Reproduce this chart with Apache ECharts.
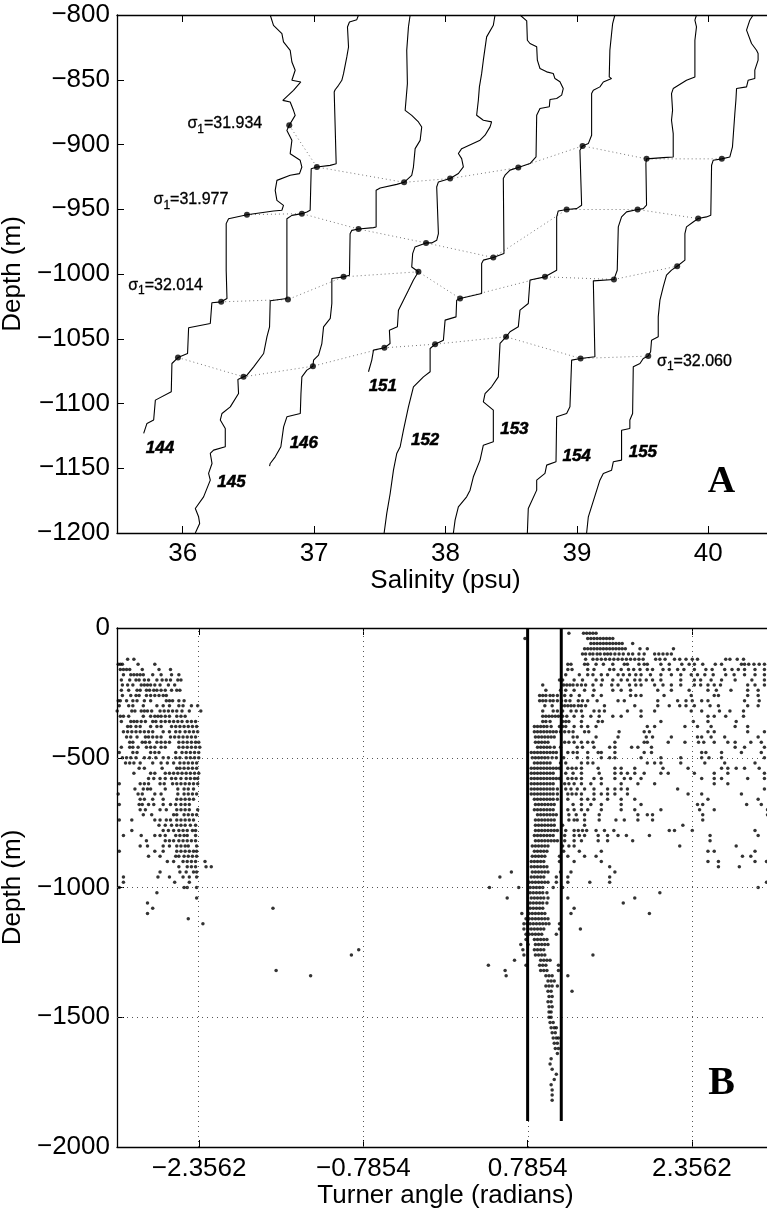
<!DOCTYPE html>
<html><head><meta charset="utf-8">
<script src="https://cdn.jsdelivr.net/npm/echarts@6.0.0/dist/echarts.min.js"></script>
<style>html,body{margin:0;padding:0;background:#fff}#c{width:767px;height:1209px}</style>
</head><body><div id="c"></div>
<script>
// ---------- Panel A data (salinity psu, depth m) ----------
const salinityTicks = [36, 37, 38, 39, 40];
const p144 = [[36.666,-800],[36.691,-808],[36.755,-814.4],[36.767,-820.8],[36.818,-827.3],[36.831,-836.3],[36.856,-842.7],[36.831,-850.4],[36.899,-851.7],[36.843,-858.2],[36.762,-865.9],[36.818,-867.2],[36.843,-873.6],[36.856,-877.5],[36.811,-885.2],[36.793,-889.1],[36.831,-896.8],[36.818,-907.1],[36.894,-912.2],[36.907,-917.4],[36.889,-922.5],[36.818,-923.8],[36.717,-927.7],[36.704,-935.4],[36.717,-943.1],[36.767,-947],[36.755,-950.8],[36.691,-951.4],[36.489,-954.2],[36.349,-957.3],[36.331,-961.1],[36.331,-997.2],[36.337,-1018.9],[36.293,-1021.5],[36.222,-1022.2],[36.21,-1038.2],[36.045,-1041.5],[36.037,-1061.4],[35.964,-1064.5],[35.918,-1069.1],[35.913,-1091],[35.792,-1097.4],[35.779,-1112.8],[35.728,-1115.4],[35.703,-1123.1]];
const p145 = [[37.338,-800],[37.325,-803.6],[37.269,-805.4],[37.254,-809.3],[37.262,-824.7],[37.249,-832.4],[37.224,-845.3],[37.211,-850.4],[37.186,-854.3],[37.16,-857.7],[37.153,-859.5],[37.168,-914.8],[37.122,-916.1],[37.021,-917.4],[36.978,-918.7],[36.97,-950.8],[36.945,-952.1],[36.907,-953.4],[36.831,-954.7],[36.793,-957.3],[36.793,-1018.9],[36.801,-1019.7],[36.666,-1020.7],[36.661,-1040.8],[36.641,-1048.5],[36.616,-1061.4],[36.54,-1071.7],[36.489,-1078.1],[36.463,-1079.4],[36.42,-1081.4],[36.425,-1092.3],[36.362,-1102.6],[36.299,-1107.7],[36.286,-1112.8],[36.324,-1119.3],[36.324,-1133.4],[36.235,-1136],[36.21,-1138.6],[36.223,-1146.3],[36.197,-1154],[36.21,-1159.2],[36.159,-1172.1],[36.096,-1181.1],[36.121,-1187.5],[36.129,-1192.6],[36.096,-1200]];
const p146 = [[37.731,-800],[37.718,-809.3],[37.705,-827.3],[37.71,-853],[37.693,-873.6],[37.743,-877.5],[37.794,-882.6],[37.819,-886.5],[37.807,-896.8],[37.769,-903.2],[37.756,-917.4],[37.743,-923.8],[37.685,-929.2],[37.629,-930.8],[37.503,-933.6],[37.472,-935.4],[37.472,-963.7],[37.452,-964.2],[37.338,-965.3],[37.287,-966.3],[37.274,-968.9],[37.269,-1000.9],[37.224,-1002.2],[37.135,-1003.5],[37.135,-1022.8],[37.123,-1034.3],[37.072,-1040.8],[37.059,-1053.7],[37.034,-1062.7],[36.996,-1066.5],[36.991,-1071.2],[36.945,-1074.2],[36.907,-1079.4],[36.9,-1092.3],[36.895,-1107.7],[36.793,-1110.3],[36.768,-1118],[36.747,-1133.4],[36.704,-1141.2],[36.666,-1146.3],[36.661,-1148.4]];
const p151 = [[38.377,-800],[38.364,-807.9],[38.313,-816.9],[38.288,-834.9],[38.275,-845.3],[38.258,-855.5],[38.25,-865.8],[38.237,-877.4],[38.288,-881.3],[38.351,-882.5],[38.339,-886.4],[38.301,-892.8],[38.263,-896.7],[38.123,-903.2],[38.098,-907],[38.123,-910.9],[38.136,-917.3],[38.098,-922.4],[38.035,-926.3],[37.946,-928.9],[37.933,-932.8],[37.946,-968.8],[37.933,-974],[37.895,-976],[37.852,-976],[37.768,-979.1],[37.75,-984.3],[37.743,-994.6],[37.794,-998.3],[37.756,-1004.7],[37.718,-1012.5],[37.68,-1020.2],[37.642,-1027.9],[37.634,-1040.8],[37.573,-1043.4],[37.578,-1053.7],[37.535,-1057],[37.452,-1058.8],[37.439,-1066.5],[37.414,-1075.5]];
const p152 = [[38.567,-800],[38.618,-804.5],[38.623,-819.5],[38.643,-822],[38.694,-824.6],[38.699,-834.9],[38.719,-841.3],[38.77,-843.9],[38.82,-845.2],[38.833,-849.1],[38.871,-851.6],[38.896,-856.8],[38.884,-861.9],[38.846,-864.5],[38.795,-865.3],[38.79,-870.9],[38.719,-872.2],[38.694,-877.4],[38.689,-909.5],[38.643,-914.7],[38.554,-917.8],[38.491,-919.8],[38.453,-923.7],[38.44,-926.3],[38.445,-984.2],[38.364,-987.3],[38.288,-989.3],[38.275,-991.9],[38.275,-1015],[38.111,-1018.9],[38.085,-1020.2],[38.08,-1033.1],[37.997,-1035.6],[37.984,-1051.1],[37.921,-1054.2],[37.883,-1057.5],[37.883,-1075.5],[37.832,-1079.4],[37.756,-1087.1],[37.718,-1102.6],[37.68,-1120.6],[37.655,-1133.4],[37.629,-1138.6],[37.604,-1151.5],[37.579,-1169.5],[37.553,-1184.9],[37.533,-1200]];
const p153 = [[39.289,-800],[39.272,-806.6],[39.264,-814.3],[39.251,-827.2],[39.246,-847.8],[39.264,-849.1],[39.201,-851.7],[39.175,-855.5],[39.125,-858.1],[39.112,-860.7],[39.112,-892.8],[39.087,-899.3],[39.043,-901.1],[39.023,-904.4],[39.036,-946.9],[38.998,-949.5],[38.922,-950.2],[38.858,-951.3],[38.846,-955.9],[38.846,-997.1],[38.851,-998.3],[38.757,-1002.2],[38.643,-1004.7],[38.63,-1022.8],[38.567,-1027.9],[38.554,-1040.8],[38.491,-1044.6],[38.461,-1048.5],[38.415,-1053.6],[38.402,-1079.4],[38.351,-1087.1],[38.301,-1092.3],[38.288,-1098.7],[38.364,-1105.1],[38.364,-1129.6],[38.288,-1132.2],[38.263,-1143.7],[38.212,-1156.6],[38.187,-1166.9],[38.161,-1172.1],[38.098,-1179.8],[38.073,-1190.1],[38.06,-1200]];
const p154 = [[39.91,-800],[39.898,-804],[39.91,-809.2],[39.898,-819.5],[39.898,-847.8],[39.834,-850.4],[39.733,-856.8],[39.72,-860.7],[39.728,-873.6],[39.72,-881.3],[39.733,-891.6],[39.733,-909.6],[39.657,-910.1],[39.53,-911.1],[39.525,-914.7],[39.53,-946.9],[39.505,-949.5],[39.462,-950.2],[39.378,-952],[39.34,-955.9],[39.315,-963.6],[39.307,-997.1],[39.289,-1002.2],[39.282,-1004.2],[39.125,-1005.3],[39.137,-1063.9],[39.028,-1065.2],[38.96,-1066.5],[38.947,-1102.6],[38.922,-1107.7],[38.846,-1110.3],[38.841,-1145],[38.77,-1147.6],[38.757,-1154],[38.694,-1159.2],[38.694,-1166.9],[38.63,-1181.1],[38.623,-1200]];
const p155 = [[40.341,-800],[40.316,-804],[40.291,-811.7],[40.329,-822],[40.367,-827.2],[40.379,-829.8],[40.379,-834.9],[40.354,-842.6],[40.354,-849.1],[40.303,-850.4],[40.291,-855.5],[40.215,-856.8],[40.21,-865.8],[40.202,-876.1],[40.189,-877.4],[40.184,-901.8],[40.164,-909.6],[40.103,-911.1],[40.037,-912.2],[40.025,-916],[40.019,-954.6],[39.986,-955.9],[39.923,-957.2],[39.885,-959.8],[39.834,-963.6],[39.822,-968.8],[39.822,-989.3],[39.763,-994],[39.72,-997],[39.682,-1000.9],[39.657,-1009.9],[39.632,-1020.2],[39.619,-1033.1],[39.619,-1048.5],[39.568,-1051.1],[39.561,-1060.1],[39.543,-1063.4],[39.505,-1065.2],[39.48,-1069.1],[39.429,-1071.7],[39.424,-1107.7],[39.403,-1112.8],[39.403,-1119.3],[39.34,-1120.6],[39.34,-1143.7],[39.277,-1145],[39.264,-1151.5],[39.201,-1154],[39.175,-1159.2],[39.087,-1187.5],[39.074,-1200]];
const profiles = [p144, p145, p146, p151, p152, p153, p154, p155];

// isopycnal (sigma1) points on each profile
const sig31934 = [[36.811,-885.2],[37.021,-917.4],[37.685,-929.2],[38.035,-926.3],[38.554,-917.8],[39.043,-901.1],[39.530,-911.1],[40.103,-911.1]];
const sig31977 = [[36.489,-954.2],[36.907,-953.4],[37.338,-965.3],[37.852,-976.0],[38.364,-987.3],[38.922,-950.2],[39.462,-950.2],[39.923,-957.2]];
const sig32014 = [[36.293,-1021.5],[36.801,-1019.7],[37.224,-1002.2],[37.794,-998.3],[38.111,-1018.9],[38.757,-1002.2],[39.282,-1004.2],[39.763,-994.0]];
const sig32060 = [[35.964,-1064.5],[36.463,-1079.4],[36.991,-1071.2],[37.535,-1057.0],[37.921,-1054.2],[38.461,-1048.5],[39.028,-1065.2],[39.543,-1063.4]];
const sigmaLines = [sig31934, sig31977, sig32014, sig32060];

const profileNames = ['144','145','146','151','152','153','154','155'];
const profileLabelPos = [[35.827,-1134.3],[36.371,-1160.9],[36.922,-1130.5],[37.523,-1086.7],[37.845,-1128.6],[38.524,-1119.7],[38.998,-1140.5],[39.502,-1137.6]];
const sigmaNames = ['31.934','31.977','32.014','32.060'];
const sigmaLabelPos = [[36.032,-884.1],[35.774,-942.5],[35.581,-1008.6],[39.606,-1067.3]];

// ---------- Panel B data (Turner angle rad, depth m) ----------
const turnerTicks = [-2.3562, -0.7854, 0.7854, 2.3562];
const fingerBounds = [0.7854, 1.1071];
const boundDepth = [0, -1900];
// rows: [depth, angle1, angle2, ...]
const tuLeftRows = [
[120,-3.04,-2.98],
[140,-3.13,-3.11,-3.09,-2.94,-2.78],
[160,-3.11,-3.08,-3.05,-3.02,-2.90,-2.74,-2.63],
[180,-3.08,-3.01,-2.98,-2.95,-2.92,-2.89,-2.80,-2.72,-2.62,-2.55],
[200,-3.10,-3.02,-2.96,-2.93,-2.88,-2.84,-2.76,-2.71,-2.67,-2.63,-2.56,-2.53],
[220,-3.09,-3.04,-2.99,-2.91,-2.88,-2.85,-2.82,-2.78,-2.73,-2.65,-2.59],
[240,-3.10,-3.03,-2.95,-2.92,-2.86,-2.83,-2.79,-2.76,-2.72,-2.68,-2.62,-2.57,-2.54],
[260,-3.09,-3.01,-2.96,-2.93,-2.86,-2.82,-2.78,-2.74,-2.70,-2.67],
[280,-3.13,-3.11,-3.05,-2.99,-2.95,-2.88,-2.82,-2.67,-2.64,-2.61,-2.55,-2.50],
[300,-3.12,-3.03,-2.99,-2.89,-2.76,-2.70,-2.64,-2.55,-2.51,-2.43,-2.37],
[320,-3.14,-3.00,-2.97,-2.91,-2.88,-2.85,-2.81,-2.73,-2.69,-2.65,-2.61,-2.57,-2.52,-2.45,-2.34],
[340,-3.11,-3.08,-3.03,-2.89,-2.82,-2.78,-2.75,-2.72,-2.68,-2.64,-2.57,-2.53,-2.49],
[360,-3.10,-3.01,-2.98,-2.95,-2.91,-2.87,-2.80,-2.77,-2.72,-2.68,-2.64,-2.60,-2.56,-2.52,-2.47,-2.43,-2.39],
[380,-3.04,-3.01,-2.96,-2.92,-2.82,-2.76,-2.72,-2.62,-2.58,-2.54,-2.50,-2.46,-2.42,-2.38],
[400,-3.08,-3.04,-3.00,-2.96,-2.92,-2.88,-2.84,-2.80,-2.70,-2.64,-2.58,-2.54,-2.49,-2.45,-2.41,-2.37],
[420,-3.05,-3.01,-2.95,-2.87,-2.84,-2.80,-2.76,-2.72,-2.63,-2.59,-2.55,-2.51,-2.47,-2.43,-2.39],
[440,-3.02,-2.99,-2.90,-2.87,-2.83,-2.76,-2.72,-2.68,-2.64,-2.55,-2.51,-2.47,-2.43,-2.39,-2.36],
[460,-3.10,-3.02,-2.99,-2.94,-2.86,-2.82,-2.78,-2.72,-2.68,-2.55,-2.51,-2.47,-2.43,-2.39,-2.35],
[480,-3.12,-2.99,-2.95,-2.82,-2.78,-2.74,-2.58,-2.52,-2.48,-2.44,-2.40,-2.36],
[500,-3.09,-3.05,-3.01,-2.96,-2.88,-2.83,-2.77,-2.70,-2.65,-2.58,-2.54,-2.48,-2.44,-2.40,-2.36],
[520,-3.06,-3.02,-2.98,-2.92,-2.80,-2.72,-2.66,-2.60,-2.54,-2.50,-2.46,-2.42,-2.38],
[540,-2.93,-2.88,-2.71,-2.57,-2.54,-2.50,-2.46,-2.42,-2.38],
[560,-2.98,-2.82,-2.78,-2.68,-2.64,-2.60,-2.56,-2.52,-2.48,-2.44,-2.40,-2.36],
[580,-2.84,-2.79,-2.73,-2.68,-2.62,-2.58,-2.53,-2.48,-2.44,-2.40,-2.37],
[600,-3.12,-2.92,-2.88,-2.84,-2.73,-2.69,-2.61,-2.57,-2.53,-2.49,-2.45,-2.41,-2.37],
[620,-2.97,-2.89,-2.85,-2.82,-2.68,-2.56,-2.50,-2.46,-2.41],
[640,-3.13,-2.94,-2.90,-2.78,-2.72,-2.56,-2.50,-2.46,-2.42,-2.38],
[660,-2.92,-2.88,-2.80,-2.70,-2.57,-2.53,-2.49,-2.45,-2.41],
[680,-3.12,-2.93,-2.90,-2.84,-2.79,-2.70,-2.63,-2.58,-2.53,-2.49,-2.45],
[700,-2.92,-2.87,-2.73,-2.67,-2.57,-2.53,-2.49,-2.45,-2.37],
[720,-2.89,-2.81,-2.60,-2.57,-2.50,-2.46,-2.42,-2.38],
[740,-3.12,-3.00,-2.78,-2.73,-2.67,-2.63,-2.57,-2.53,-2.49,-2.45,-2.41],
[760,-2.74,-2.68,-2.62,-2.57,-2.53,-2.49,-2.44,-2.39],
[780,-3.00,-2.70,-2.65,-2.60,-2.55,-2.51,-2.47,-2.42,-2.39],
[800,-3.08,-2.91,-2.78,-2.73,-2.68,-2.58,-2.54,-2.50,-2.47,-2.39],
[820,-2.86,-2.68,-2.64,-2.60,-2.55,-2.51,-2.47,-2.43,-2.39],
[840,-2.92,-2.85,-2.70,-2.64,-2.57,-2.53,-2.49,-2.46,-2.38],
[860,-3.12,-2.78,-2.70,-2.57,-2.53,-2.49,-2.45,-2.41,-2.38],
[880,-2.84,-2.73,-2.58,-2.55,-2.50,-2.46,-2.42,-2.38],
[900,-2.66,-2.60,-2.51,-2.47,-2.43,-2.39,-2.30],
[920,-2.55,-2.47,-2.43,-2.39,-2.29,-2.24],
[940,-2.73,-2.54,-2.48,-2.41,-2.38],
[960,-3.08,-2.75,-2.64,-2.51,-2.45,-2.38],
[980,-3.08,-2.59,-2.45],
[1000,-3.12,-2.50,-2.47,-2.38],
[1020,-2.76],[1040,-2.38],[1060,-2.85],[1080,-2.80,-1.65],[1100,-2.85],[1120,-2.46],[1140,-2.32],
[1240,-0.83],[1260,-0.90],[1320,-1.62],[1340,-1.29]
];
const tuRightRows = [
[20,1.18,1.32,1.35,1.38,1.41,1.44],
[40,0.76,1.36,1.39,1.42,1.45,1.48,1.51,1.54,1.57,1.60],
[60,1.39,1.42,1.45,1.48,1.51,1.54,1.57,1.60,1.63,1.66,1.69,1.79],
[80,1.33,1.36,1.39,1.42,1.45,1.48,1.51,1.54,1.57,1.60,1.63,1.66,1.69,1.72,1.86,1.93,2.18],
[100,1.31,1.34,1.38,1.41,1.45,1.48,1.52,1.55,1.58,1.62,1.66,1.70,1.75,1.79,1.85,1.90,2.00,2.04,2.08,2.12,2.16],
[120,1.34,1.41,1.45,1.49,1.53,1.57,1.61,1.65,1.69,1.73,1.77,1.81,1.85,1.89,2.01,2.05,2.10,2.19,2.24,2.30,2.36,2.41,2.68,2.72,2.79,2.85],
[140,1.17,1.20,1.33,1.36,1.44,1.51,1.60,1.71,1.74,1.85,1.90,1.93,2.06,2.14,2.26,2.33,2.38,2.46,2.58,2.64,2.83,2.86,2.90,2.95,3.00,3.05,3.09],
[160,1.17,1.21,1.36,1.42,1.57,1.61,1.68,1.75,1.80,1.86,1.93,1.98,2.08,2.14,2.22,2.28,2.38,2.49,2.55,2.67,2.74,2.80,2.86,2.96,3.05],
[180,1.15,1.28,1.36,1.41,1.49,1.55,1.65,1.70,1.76,1.82,1.87,1.96,2.06,2.16,2.25,2.35,2.41,2.48,2.56,2.68,2.76,2.86,2.96,3.05],
[200,1.09,1.12,1.23,1.31,1.44,1.50,1.60,1.68,1.74,1.81,1.86,1.92,1.98,2.06,2.25,2.38,2.44,2.54,2.64,2.77,2.93,3.05],
[220,0.93,1.13,1.16,1.19,1.22,1.26,1.30,1.34,1.41,1.49,1.59,1.65,1.76,1.82,1.87,2.00,2.08,2.16,2.25,2.38,2.44,2.51,2.57,2.63,2.89,2.96,3.05],
[240,0.96,1.10,1.15,1.23,1.33,1.42,1.60,1.68,1.77,2.03,2.16,2.33,2.51,2.59,2.73,2.89,2.99],
[260,0.90,0.93,0.96,1.00,1.03,1.07,1.14,1.20,1.28,1.41,1.49,1.77,1.82,1.87,2.09,2.35,2.57,2.61,2.89,2.99],
[280,0.90,0.93,0.96,1.00,1.03,1.07,1.11,1.15,1.19,1.27,1.31,1.36,1.45,1.65,1.71,2.03,2.22,2.30,2.36,2.45,2.51,2.86,3.00],
[300,0.95,1.02,1.11,1.14,1.17,1.20,1.23,1.27,1.30,1.34,1.52,1.81,2.03,2.14,2.24,2.30,2.38,2.53,2.61,2.89,2.99],
[320,0.93,1.03,1.07,1.12,1.20,1.25,1.30,1.42,1.47,1.52,1.74,1.87,2.00,2.35,2.45,2.62,2.72,2.85],
[340,0.93,0.96,0.99,1.02,1.05,1.08,1.12,1.16,1.23,1.31,1.39,1.47,1.60,1.68,1.87,2.51,2.57,2.68,2.85],
[360,0.93,0.96,1.00,1.12,1.15,1.18,1.30,1.46,1.50,2.06,2.37,2.51,2.78],
[380,0.85,0.88,0.91,0.94,0.97,1.01,1.09,1.12,1.15,1.23,1.30,1.36,1.44,1.93,2.00,2.29,2.41,2.54,2.77,2.89],
[400,0.85,0.88,0.91,0.94,0.97,1.00,1.03,1.06,1.10,1.14,1.18,1.22,1.33,1.37,1.66,1.90,1.95,2.51,2.57,2.89,3.05],
[420,0.86,0.89,0.92,0.95,0.98,1.01,1.04,1.22,1.26,1.44,1.65,1.92,1.98,2.16,2.41,2.45,2.54,2.67,2.99],
[440,0.86,0.89,0.92,0.95,0.98,1.14,1.18,1.23,1.30,1.36,1.41,1.62,1.90,1.93,2.13,2.29,2.42,2.47,2.57,2.70,2.77,2.92,3.02],
[460,0.88,0.91,0.94,0.97,1.00,1.04,1.10,1.26,1.31,1.42,1.57,1.62,1.78,1.84,1.97,2.77,2.86,3.05],
[480,0.82,0.85,0.88,0.91,0.94,0.97,1.00,1.03,1.06,1.17,1.22,1.26,1.36,1.46,1.49,1.62,1.90,1.97,2.45,2.49,2.64,2.83,3.02],
[500,0.83,0.86,0.89,0.92,0.95,0.98,1.02,1.06,1.13,1.26,1.36,1.49,1.57,1.62,1.87,2.06,2.25,2.45,2.52,2.64,3.05],
[520,0.85,0.88,0.91,0.94,0.97,1.00,1.10,1.15,1.30,1.36,1.41,1.93,2.00,2.06,2.25,2.48,2.67,2.96],
[540,0.82,0.85,0.88,0.91,0.94,0.97,1.00,1.03,1.06,1.09,1.17,1.21,1.25,1.30,1.46,1.62,1.68,1.81,2.08,2.32,2.64,2.70,2.78,2.86,3.00],
[560,0.82,0.85,0.88,0.91,0.94,0.97,1.00,1.03,1.15,1.22,1.30,1.47,1.62,1.68,1.74,1.81,1.90,2.06,2.13,2.38,2.57,2.70,3.05],
[580,0.82,0.85,0.88,0.91,0.94,0.97,1.00,1.03,1.06,1.09,1.17,1.21,1.25,1.30,1.42,1.49,1.62,1.71,1.77,1.87,2.45,2.57,2.64,2.89,3.05],
[600,0.82,0.85,0.88,0.91,0.94,0.97,1.00,1.03,1.14,1.18,1.23,1.30,1.39,1.49,1.68,1.84,2.00,2.57,2.70],
[620,0.82,0.85,0.88,0.91,0.94,0.97,1.00,1.03,1.07,1.15,1.20,1.26,1.33,1.42,1.55,1.62,1.68,1.74,2.22,3.05],
[640,0.82,0.85,0.88,0.91,0.94,0.97,1.00,1.03,1.07,1.17,1.21,1.25,1.30,1.42,1.49,1.55,1.62,1.74,2.32,2.45,2.83],
[660,0.85,0.88,0.91,0.94,0.97,1.00,1.03,1.07,1.17,1.30,1.36,1.42,1.55,1.68,1.81,2.51,2.99],
[680,0.86,0.89,0.92,0.95,0.98,1.01,1.04,1.22,1.30,1.39,1.49,1.68,1.87,2.41,2.46,2.88,3.02],
[700,0.85,0.88,0.91,0.94,0.97,1.00,1.03,1.17,1.23,1.30,1.36,1.49,1.68,1.81,2.06,2.43,2.57,3.08],
[720,0.88,0.91,0.94,0.97,1.00,1.03,1.06,1.18,1.25,1.33,1.47,1.84,1.93,1.98,2.46,3.08],
[740,0.86,0.89,0.92,0.95,0.98,1.01,1.04,1.18,1.23,1.26,1.33,1.47,1.63,1.71,1.84,1.98,2.46],
[760,0.86,0.89,0.92,0.95,0.98,1.01,1.04,1.12,1.33,2.27],
[780,0.86,0.89,0.92,0.95,0.98,1.01,1.04,1.07,1.15,1.23,1.27,1.31,1.35,1.44,1.52,1.61,2.14,2.19,2.36,2.96],
[800,0.85,0.88,0.91,0.94,0.97,1.00,1.03,1.14,1.23,1.28,1.33,1.46,1.55,1.65,1.73,1.95,2.53,2.99],
[820,0.86,0.89,0.92,0.95,0.98,1.01,1.04,1.07,1.14,1.23,1.30,1.46,1.55,1.79,2.53],
[840,0.83,0.86,0.89,0.92,0.95,0.98,1.12,1.18,1.23,2.24,2.78],
[860,0.85,0.88,0.91,0.94,0.97,1.13,1.28,1.49,2.51,2.57,2.96],
[880,0.83,0.86,0.89,0.92,0.95,1.09,1.17,1.33,1.44,2.84,2.92],
[900,0.82,0.85,0.88,0.91,0.94,1.09,1.23,1.49,2.51,2.61,2.96,3.07],
[920,0.82,0.85,0.88,0.91,0.94,0.97,1.57,2.61,2.81],
[940,0.63,0.83,0.86,0.89,0.92,0.95,0.98,1.10,1.20,1.62],
[960,0.52,0.82,0.85,0.88,0.91,0.94,1.06,1.17,1.57],
[980,0.80,0.83,0.86,0.89,0.92,0.95,0.98,1.06,1.17,1.38,1.57,3.07],
[1000,0.42,0.70,0.81,0.84,0.87,0.90,0.93,1.03,1.12,2.99],
[1020,0.81,0.84,0.87,0.90,0.93,0.97,2.05],
[1040,0.59,0.82,0.85,0.88,0.91,0.94,0.98,1.17,1.81],
[1060,0.81,0.84,0.87,0.90,0.93,0.97,1.70],
[1080,0.81,0.84,0.87,0.90,0.93,1.23],
[1100,0.73,0.80,0.83,0.86,0.89,0.92,0.95,1.20,1.95],
[1120,0.77,0.80,0.83,0.86,0.89,0.92,0.95,0.98],
[1140,0.75,0.78,0.81,0.84,0.87,0.90,0.93,0.96,0.99,1.09],
[1160,0.75,0.79,0.82,0.85,0.88,0.91,0.94,1.09,1.29],
[1180,0.77,0.80,0.83,0.86,0.89,0.92,1.06],
[1200,0.77,0.85,0.88,0.91,0.94,0.97],
[1220,0.72,0.79,0.86,0.89,0.92,0.95,0.98],
[1240,0.74,0.85,0.88,0.91,0.94],
[1260,0.75,0.86,0.89,0.92,0.95,1.41],
[1280,0.66,0.91,0.94,0.97,1.00],
[1300,0.41,0.77,0.90,0.93,0.96,1.08],
[1320,0.57,0.91,0.94,0.97,1.08],
[1340,0.58,0.96,0.99,1.02,1.17],
[1360,0.98,1.01,1.04],
[1380,0.96,0.99,1.02,1.07],
[1400,0.98,1.01,1.21],
[1420,0.99,1.02],[1440,0.98,1.01],[1460,0.99,1.02],[1480,0.99,1.01],[1500,0.99,1.01],
[1520,1.00,1.03],[1540,1.01,1.04,1.06],[1560,1.02,1.05],[1580,1.03,1.06,1.08],[1600,1.04,1.07],
[1620,1.05,1.08],[1640,1.07],[1660,1.01],[1680,1.00],[1700,1.02],[1720,1.06],[1740,1.04],
[1760,1.01],[1780,1.02],[1800,1.02],[1820,1.02]
];

// ---------- chart ----------
const FONT = '"Liberation Sans", Arial, Helvetica, sans-serif';
const SERIF = '"Liberation Serif", "Times New Roman", serif';
const negFmt = v => (v < 0 ? '\u2212' : '') + Math.abs(v);
const rowsToPoints = rows => rows.flatMap(r => r.slice(1).map(x => [x, -r[0]]));

const chart = echarts.init(document.getElementById('c'), null, {renderer: 'canvas', width: 767, height: 1209});

function axisBase(extra) {
  return Object.assign({
    type: 'value',
    axisLine: {show: true, onZero: false, lineStyle: {color: '#000', width: 1.3}},
    axisTick: {show: true, inside: true, length: 7, lineStyle: {color: '#000', width: 1}},
    axisLabel: {show: true, color: '#000', fontSize: 26, fontFamily: FONT},
    splitLine: {show: false},
    nameTextStyle: {color: '#000', fontSize: 26, fontFamily: FONT},
    nameLocation: 'middle'
  }, extra);
}
const TXT = {color: '#000', opacity: 1, textBorderColor: '#000', textShadowBlur: 0};

const series = [];
profiles.forEach(p => series.push({
  type: 'line', xAxisIndex: 0, yAxisIndex: 0, data: p, showSymbol: false, symbol: 'none',
  lineStyle: {color: '#000', width: 1.1}, silent: true, z: 3
}));
sigmaLines.forEach(s => series.push({
  type: 'line', xAxisIndex: 0, yAxisIndex: 0, data: s, showSymbol: false, symbol: 'none',
  lineStyle: {color: '#777', width: 1, type: [1, 3]}, silent: true, z: 2
}));
series.push({
  type: 'scatter', xAxisIndex: 0, yAxisIndex: 0, data: [].concat(...sigmaLines),
  symbolSize: 6, itemStyle: {color: '#000'}, silent: true, z: 4
});
const txtA = [];
profileNames.forEach((n, i) => txtA.push({
  value: profileLabelPos[i],
  label: Object.assign({show: true, formatter: n, position: 'inside', fontSize: 17, textBorderWidth: 0.5,
    fontWeight: 'bold', fontStyle: 'italic', fontFamily: FONT}, TXT)
}));
sigmaNames.forEach((n, i) => txtA.push({
  value: sigmaLabelPos[i],
  label: Object.assign({show: true, formatter: '{s|\u03c3}{sub|1}{s|=' + n + '}', position: 'right', distance: 0,
    align: 'left', verticalAlign: 'middle', textBorderWidth: 0,
    rich: {
      s: {fontSize: 16, fontFamily: FONT, color: '#000', lineHeight: 24, verticalAlign: 'middle', textBorderColor: '#000', textBorderWidth: 0.3},
      sub: {fontSize: 12, fontFamily: FONT, color: '#000', lineHeight: 12, verticalAlign: 'bottom', textBorderColor: '#000', textBorderWidth: 0.3}
    }}, TXT)
}));
txtA.push({
  value: [40.1, -1161],
  label: Object.assign({show: true, formatter: 'A', position: 'inside', fontSize: 38, textBorderWidth: 0,
    fontWeight: 'bold', fontFamily: SERIF}, TXT)
});
series.push({
  type: 'scatter', xAxisIndex: 0, yAxisIndex: 0, data: txtA, symbolSize: 1,
  itemStyle: {color: 'rgba(255,255,255,0)'}, silent: true, z: 6
});

// Panel B
series.push({
  type: 'scatter', xAxisIndex: 2, yAxisIndex: 1,
  data: rowsToPoints(tuLeftRows).concat(rowsToPoints(tuRightRows)),
  symbolSize: 3.5, itemStyle: {color: '#000'}, silent: true, z: 3,
  markLine: {
    silent: true, symbol: ['none', 'none'], animation: false, label: {show: false},
    lineStyle: {color: '#555', width: 1, type: [1, 4]},
    emphasis: {disabled: true},
    data: turnerTicks.map(v => ({xAxis: v})).concat([-500, -1000, -1500].map(v => ({yAxis: v})))
  }
});
fingerBounds.forEach(b => series.push({
  type: 'line', xAxisIndex: 2, yAxisIndex: 1, data: boundDepth.map(d => [b, d]),
  showSymbol: false, symbol: 'none', lineStyle: {color: '#000', width: 3}, silent: true, z: 5
}));
series.push({
  type: 'scatter', xAxisIndex: 2, yAxisIndex: 1, symbolSize: 1, itemStyle: {color: 'rgba(255,255,255,0)'},
  data: [{value: [2.64, -1756], label: Object.assign({show: true, formatter: 'B', position: 'inside',
    fontSize: 40, fontWeight: 'bold', fontFamily: SERIF, textBorderWidth: 0}, TXT)}], silent: true, z: 6
});

const option = {
  animation: false,
  backgroundColor: '#fff',
  textStyle: {fontFamily: FONT},
  grid: [
    {left: 117, top: 15, right: -7, height: 518, outerBoundsMode: 'none', containLabel: false},
    {left: 117, top: 628, right: -7, height: 519, outerBoundsMode: 'none', containLabel: false}
  ],
  xAxis: [
    axisBase({gridIndex: 0, position: 'bottom', min: 35.5, max: 40.5, name: 'Salinity (psu)', nameGap: 33,
      axisLabel: {show: true, color: '#000', fontSize: 26, fontFamily: FONT, margin: 8, customValues: salinityTicks, formatter: v => String(v)},
      axisTick: {show: true, inside: true, length: 7, customValues: salinityTicks, lineStyle: {color: '#000', width: 1}}}),
    axisBase({gridIndex: 0, position: 'top', min: 35.5, max: 40.5,
      axisLabel: {show: false},
      axisTick: {show: true, inside: true, length: 7, customValues: salinityTicks, lineStyle: {color: '#000', width: 1}}}),
    axisBase({gridIndex: 1, position: 'bottom', min: -Math.PI, max: Math.PI, name: 'Turner angle (radians)', nameGap: 32,
      axisLabel: {show: true, color: '#000', fontSize: 26, fontFamily: FONT, margin: 9, customValues: turnerTicks,
        formatter: v => (v < 0 ? '\u2212' : '') + Math.abs(v).toFixed(4)},
      axisTick: {show: true, inside: true, length: 7, customValues: turnerTicks, lineStyle: {color: '#000', width: 1}}}),
    axisBase({gridIndex: 1, position: 'top', min: -Math.PI, max: Math.PI,
      axisLabel: {show: false},
      axisTick: {show: true, inside: true, length: 7, customValues: turnerTicks, lineStyle: {color: '#000', width: 1}}})
  ],
  yAxis: [
    axisBase({gridIndex: 0, position: 'left', min: -1200, max: -800, interval: 50, name: 'Depth (m)', nameGap: 78,
      axisLabel: {show: true, color: '#000', fontSize: 26, fontFamily: FONT, margin: 7, formatter: negFmt}}),
    axisBase({gridIndex: 1, position: 'left', min: -2000, max: 0, interval: 500, name: 'Depth (m)', nameGap: 78,
      axisLabel: {show: true, color: '#000', fontSize: 26, fontFamily: FONT, margin: 7, formatter: negFmt}})
  ],
  series: series
};
chart.setOption(option);
</script>
</body></html>
